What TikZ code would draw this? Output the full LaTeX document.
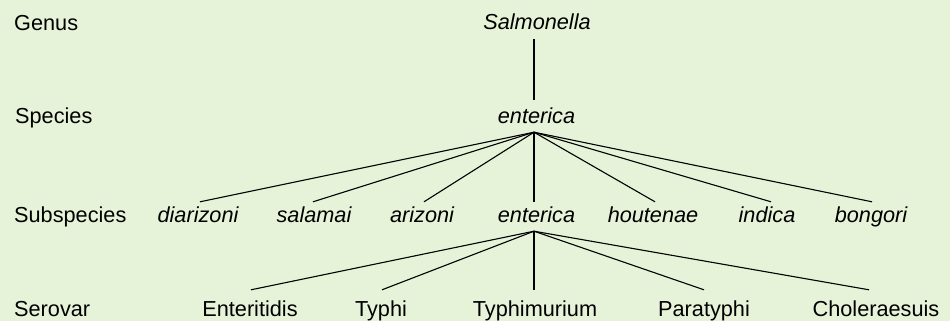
\documentclass[tikz,border=0pt]{standalone}
\usepackage{fontspec}
\setmainfont{Liberation Sans}
\definecolor{bgcol}{RGB}{230,243,217}
\newcommand{\txtsize}{\fontsize{21.7pt}{26pt}\selectfont}
\begin{document}
\begin{tikzpicture}[x=1pt,y=-1pt,
  every node/.style={inner sep=0pt, anchor=base, font=\txtsize},
  rank/.style={anchor=base west},
  taxon/.style={font=\txtsize\itshape},
  parentbox/.style={text depth=9pt},
  sprow/.style={text height=23pt},
  subrow/.style={text height=20pt},
  serrow/.style={text height=26pt},
  link/.style={line width=1.1pt, black}]
\fill[bgcol] (0,0) rectangle (950,321);
\useasboundingbox (0,0) rectangle (950,321);
% rank labels
\node[rank] (lgen) at (14,31) {Genus};
\node[rank] (lspe) at (15,123) {Species};
\node[rank] (lsub) at (14,222) {Subspecies};
\node[rank] (lser) at (14,316) {Serovar};
% genus and species
\node[taxon, parentbox] (sal) at (537,30) {Salmonella};
\node[taxon, parentbox, sprow] (spe) at (536.5,123) {enterica};
% subspecies
\node[taxon, subrow] (dia) at (198,222) {diarizoni};
\node[taxon, subrow] (sala) at (314,222) {salamai};
\node[taxon, subrow] (ari) at (422,222) {arizoni};
\node[taxon, subrow, parentbox] (sent) at (536.5,222) {enterica};
\node[taxon, subrow] (hou) at (653,222) {houtenae};
\node[taxon, subrow] (ind) at (767,222) {indica};
\node[taxon, subrow] (bon) at (871,222) {bongori};
% serovars
\node[serrow] (ente) at (250,316) {Enteritidis};
\node[serrow] (typhi) at (381,316) {Typhi};
\node[serrow] (typhim) at (535,316) {Typhimurium};
\node[serrow] (para) at (704,316) {Paratyphi};
\node[serrow] (chol) at (876,316) {Choleraesuis};
% connectors
\draw[link] ([xshift=-3pt]sal.south) -- ([xshift=-2.5pt]spe.north);
\foreach \c/\d in {dia/2, sala/-1, ari/2, sent/-2.5, hou/2, ind/4, bon/1}
  \draw[link] ([xshift=-2.5pt]spe.south) -- ([xshift=\d pt]\c.north);
\foreach \c/\d in {ente/1, typhi/1, typhim/-1, para/0, chol/-7}
  \draw[link] ([xshift=-2.5pt]sent.south) -- ([xshift=\d pt]\c.north);
\end{tikzpicture}
\end{document}
